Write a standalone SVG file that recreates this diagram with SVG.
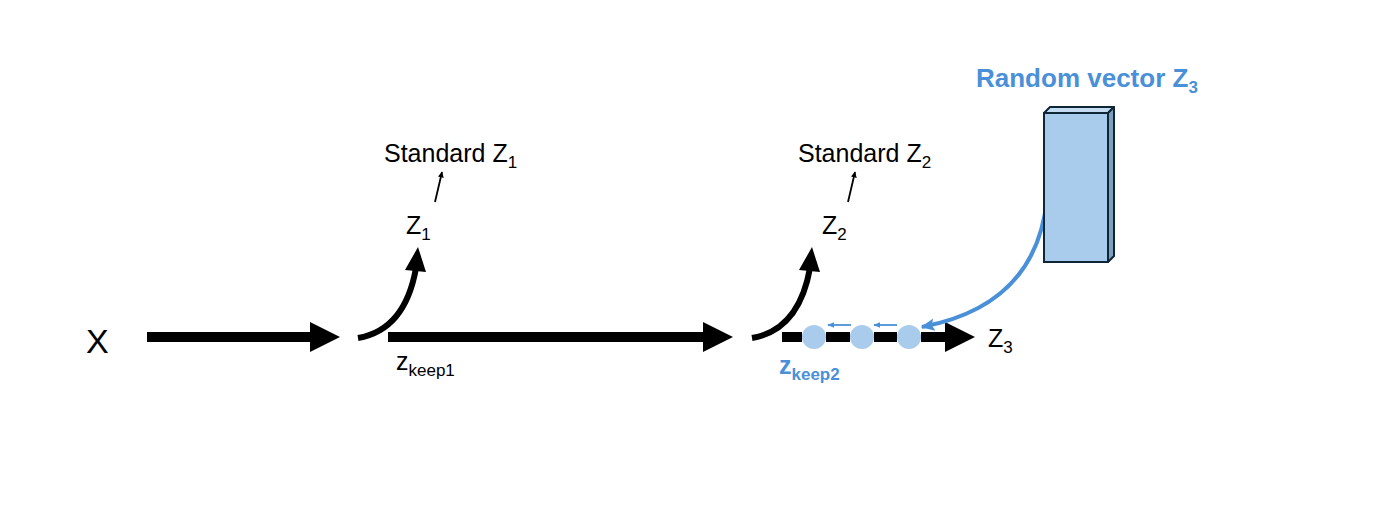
<svg xmlns="http://www.w3.org/2000/svg" width="1395" height="510" viewBox="0 0 1395 510">
<style>
.t{font-family:"Liberation Sans",Arial,sans-serif;font-size:25px;fill:#000}
.b{font-family:"Liberation Sans",Arial,sans-serif;font-weight:bold;fill:#4a90d9}
.thick{stroke:#000;stroke-width:10;fill:none}
.curve{stroke:#000;stroke-width:6;fill:none}
.thin{stroke:#000;stroke-width:1.8;fill:none}
.blue{stroke:#4a90d9;stroke-width:4;fill:none}
.bthin{stroke:#4a90d9;stroke-width:1.8;fill:none}
.dot{fill:#a9cbec}
</style>
<defs>
<marker id="ah" viewBox="0 0 10 10" refX="9" refY="5" markerWidth="6" markerHeight="6" orient="auto" markerUnits="userSpaceOnUse">
<path d="M0,0 L10,5 L0,10 Z" fill="#000"/>
</marker>
<marker id="bh" viewBox="0 0 10 10" refX="9" refY="5" markerWidth="7" markerHeight="7" orient="auto" markerUnits="userSpaceOnUse">
<path d="M0,1 L10,5 L0,9 Z" fill="#4a90d9"/>
</marker>
<marker id="bbig" viewBox="0 0 10 10" refX="9" refY="5" markerWidth="14" markerHeight="14" orient="auto" markerUnits="userSpaceOnUse">
<path d="M0,0.5 L10,5 L0,9.5 L2,5 Z" fill="#4a90d9"/>
</marker>
</defs>
<rect width="1395" height="510" fill="#fff"/>
<g id="node-dots">
<circle class="dot" cx="814" cy="337" r="12"/>
<circle class="dot" cx="862" cy="337" r="12"/>
<circle class="dot" cx="909" cy="337" r="12"/>
</g>
<g id="connectors">
<line class="thick" x1="147" y1="337" x2="312" y2="337"/>
<path d="M310,322 L340,337 L310,352 Z" fill="#000"/>
<path class="curve" d="M358,338 Q405,330 416,268"/>
<path d="M405,270 L418,247 L426,272 Z" fill="#000"/>
<line class="thick" x1="388" y1="337" x2="706" y2="337"/>
<path d="M703,322 L733,337 L703,352 Z" fill="#000"/>
<line class="thin" x1="435" y1="202" x2="442" y2="172" marker-end="url(#ah)"/>
<path class="curve" d="M752,338 Q799,330 810,268"/>
<path d="M799,270 L812,247 L820,272 Z" fill="#000"/>
<line class="thin" x1="848" y1="202" x2="855" y2="172" marker-end="url(#ah)"/>
<line class="thick" x1="782" y1="337" x2="802" y2="337"/>
<line class="thick" x1="826" y1="337" x2="850" y2="337"/>
<line class="thick" x1="874" y1="337" x2="897" y2="337"/>
<line class="thick" x1="921" y1="337" x2="947" y2="337"/>
<path d="M945,322 L975,337 L945,352 Z" fill="#000"/>
<path class="blue" d="M1047,198 Q1037,305 922,327" marker-end="url(#bbig)"/>
<line class="bthin" x1="851" y1="325" x2="828" y2="325" marker-end="url(#bh)"/>
<line class="bthin" x1="897" y1="325" x2="874" y2="325" marker-end="url(#bh)"/>
</g>
<g id="node-x"><text class="t" x="86" y="353" style="font-size:34px">X</text></g>
<g id="node-z1"><text class="t" x="406" y="234">Z<tspan dy="6" font-size="17">1</tspan></text></g>
<g id="node-std1"><text class="t" x="384" y="162">Standard Z<tspan dy="6" font-size="17">1</tspan></text></g>
<g id="node-zkeep1"><text class="t" x="396" y="370">z<tspan dy="6" font-size="17">keep1</tspan></text></g>
<g id="node-z2"><text class="t" x="822" y="234">Z<tspan dy="6" font-size="17">2</tspan></text></g>
<g id="node-std2"><text class="t" x="798" y="162">Standard Z<tspan dy="6" font-size="17">2</tspan></text></g>
<g id="node-z3"><text class="t" x="988" y="347">Z<tspan dy="6" font-size="17">3</tspan></text></g>
<g id="node-zkeep2"><text class="b" x="779" y="374" style="font-size:25px">z<tspan dy="6" font-size="17">keep2</tspan></text></g>
<g id="node-random">
<text class="b" x="976" y="87" style="font-size:26px">Random vector Z<tspan dy="6" font-size="17">3</tspan></text>
<path d="M1044,113 L1050,107 L1114,107 L1108,113 Z" fill="#c4dcf2" stroke="#0f2636" stroke-width="2" stroke-linejoin="round"/>
<path d="M1108,113 L1114,107 L1114,256 L1108,262 Z" fill="#7f9fbf" stroke="#0f2636" stroke-width="2" stroke-linejoin="round"/>
<rect x="1044" y="113" width="64" height="149" fill="#a9cbec" stroke="#0f2636" stroke-width="2"/>
</g>
</svg>
